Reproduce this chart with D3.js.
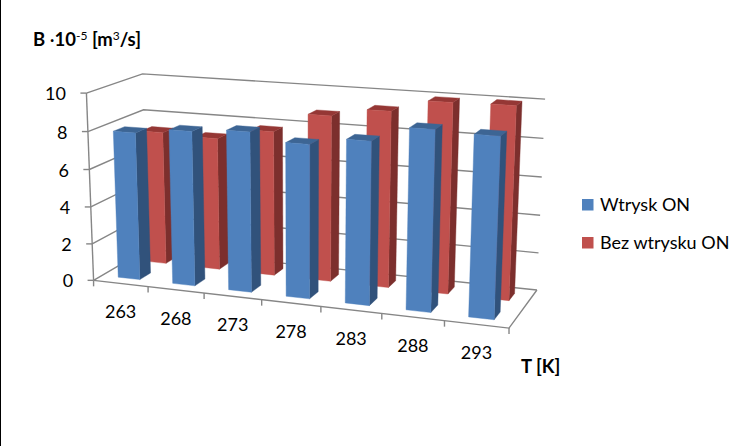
<!DOCTYPE html>
<html><head><meta charset="utf-8">
<script src="https://cdn.jsdelivr.net/npm/d3@7"></script>
<style>html,body{margin:0;padding:0;background:#fff}svg{display:block}text{font-family:Lato,"Open Sans",sans-serif;fill:#000}</style>
</head><body><div id="c"></div>
<script>
const categories=["263","268","273","278","283","288","293"];
const seriesNames=["Wtrysk ON","Bez wtrysku ON"];
const wtrysk=[7.9,8.2,8.4,8.0,8.4,9.2,9.1];
const bezWtrysku=[7.3,7.2,7.8,8.85,9.3,9.95,10.0];
const yTicks=[0,2,4,6,8,10];
const W=753,H=446;
// Camera calibration: frame corners of the unit cube and where they appear
const frame=[[[0,0,0],[94,279.3]],[[1,0,0],[509,329]],[[1,0,1],[537,289]],[[0,1,0],[86,93.3]],[[0,1,1],[143,73.5]],[[1,1,1],[545,99.3]],[[0,0,1],[147,250]]];
function solveCamera(pts){
  const A=[],b=[];
  pts.forEach(([[X,Y,Z],[u,v]])=>{
    A.push([X,Y,Z,1,0,0,0,0,-u*X,-u*Y,-u*Z]);b.push(u);
    A.push([0,0,0,0,X,Y,Z,1,-v*X,-v*Y,-v*Z]);b.push(v);
  });
  const n=11,M=d3.range(n).map(i=>d3.range(n+1).map(j=>{
    let s=0;A.forEach((r,k)=>{s+=r[i]*(j<n?r[j]:b[k]);});return s;}));
  for(let i=0;i<n;i++){
    let p=i;for(let r=i+1;r<n;r++)if(Math.abs(M[r][i])>Math.abs(M[p][i]))p=r;
    [M[i],M[p]]=[M[p],M[i]];
    for(let r=0;r<n;r++)if(r!==i){const f=M[r][i]/M[i][i];for(let c=i;c<=n;c++)M[r][c]-=f*M[i][c];}
  }
  return M.map((r,i)=>r[n]/r[i]);
}
const P=solveCamera(frame);
const proj=(X,Y,Z)=>{const w=P[8]*X+P[9]*Y+P[10]*Z+1;
  return [(P[0]*X+P[1]*Y+P[2]*Z+P[3])/w,(P[4]*X+P[5]*Y+P[6]*Z+P[7])/w];};
const x=d3.scaleBand(categories,[0,1]).paddingInner(0.6).paddingOuter(0.3);
const xCell=d3.scaleBand(categories,[0,1]);
const z=d3.scaleBand(seriesNames,[0,1]).paddingInner(0.6).paddingOuter(0.3);
const y=d3.scaleLinear([0,10],[0,1]);
const svg=d3.select("#c").append("svg").attr("width",W).attr("height",H);
svg.append("rect").attr("width",W).attr("height",H).attr("fill","#fff");
svg.append("line").attr("x1",0.5).attr("x2",0.5).attr("y1",0).attr("y2",H).attr("stroke","#000");
const gridC="#868686";
const line=d3.line();
const g=svg.append("g").attr("fill","none").attr("stroke",gridC).attr("stroke-width",1.4);
yTicks.forEach(t=>{
  g.append("path").attr("d",line([proj(0,y(t),0),proj(0,y(t),1),proj(1,y(t),1)]));
  const a=proj(0,y(t),0);
  g.append("line").attr("x1",a[0]-6).attr("x2",a[0]).attr("y1",a[1]).attr("y2",a[1]);
  svg.append("text").attr("x",a[0]-20.5).attr("y",a[1]+7).attr("text-anchor","end")
    .attr("font-size",18).text(t);
});
g.append("path").attr("d",line([proj(0,0,0),proj(0,1,0)]));
g.append("path").attr("d",line([proj(0,0,0),proj(1,0,0),proj(1,0,1)]));
xCell.domain().forEach(c=>{
  const a=proj(xCell(c)+xCell.bandwidth(),0,0);
  g.append("line").attr("x1",a[0]).attr("x2",a[0]).attr("y1",a[1]).attr("y2",a[1]+6);
  const m=proj(xCell(c)+xCell.bandwidth()/2,0,0);
  svg.append("text").attr("x",m[0]).attr("y",m[1]+35).attr("text-anchor","middle")
    .attr("font-size",18).text(c);
});
{const a=proj(0,0,0);g.append("line").attr("x1",a[0]).attr("x2",a[0]).attr("y1",a[1]).attr("y2",a[1]+6);}
const styles=[{front:"#4f81bd",side:"#31527b",top:"#3d6594"},{front:"#c0504d",side:"#7c2f2d",top:"#953735"}];
const values=[wtrysk,bezWtrysku];
const bars=svg.append("g");
[1,0].forEach(s=>{
  const name=seriesNames[s],st=styles[s],z0=z(name),z1=z0+z.bandwidth();
  categories.forEach((c,i)=>{
    const x0=x(c),x1=x0+x.bandwidth(),v=y(values[s][i]);
    const gb=bars.append("g");
    const quad=(pts,fill)=>gb.append("path").attr("d",line(pts)+"Z").attr("fill",fill).attr("stroke",fill).attr("stroke-width",0.4);
    quad([proj(x1,0,z0),proj(x1,0,z1),proj(x1,v,z1),proj(x1,v,z0)],st.side);
    quad([proj(x0,v,z0),proj(x1,v,z0),proj(x1,v,z1),proj(x0,v,z1)],st.top);
    quad([proj(x0,0,z0),proj(x1,0,z0),proj(x1,v,z0),proj(x0,v,z0)],st.front);
  });
});
const title=svg.append("text").attr("x",33).attr("y",46).attr("font-size",18.5).attr("font-weight",700);
title.append("tspan").text("B ");
title.append("tspan").attr("font-weight",400).text("·");
title.append("tspan").text("10");
title.append("tspan").attr("dy",-6).attr("font-size",12).attr("font-weight",400).text("-5");
title.append("tspan").attr("dy",6).text(" [m");
title.append("tspan").attr("dy",-6).attr("font-size",12).attr("font-weight",400).text("3");
title.append("tspan").attr("dy",6).text("/s]");
svg.append("text").attr("x",521).attr("y",373).attr("font-size",18.5).attr("font-weight",700).text("T [K]");
const legendY=d3.scalePoint(seriesNames,[199,237]);
seriesNames.forEach((n,i)=>{
  svg.append("rect").attr("x",582).attr("y",legendY(n)).attr("width",11.5).attr("height",11.5).attr("fill",styles[i].front);
  svg.append("text").attr("x",600).attr("y",legendY(n)+12).attr("font-size",18).text(n);
});
</script></body></html>
